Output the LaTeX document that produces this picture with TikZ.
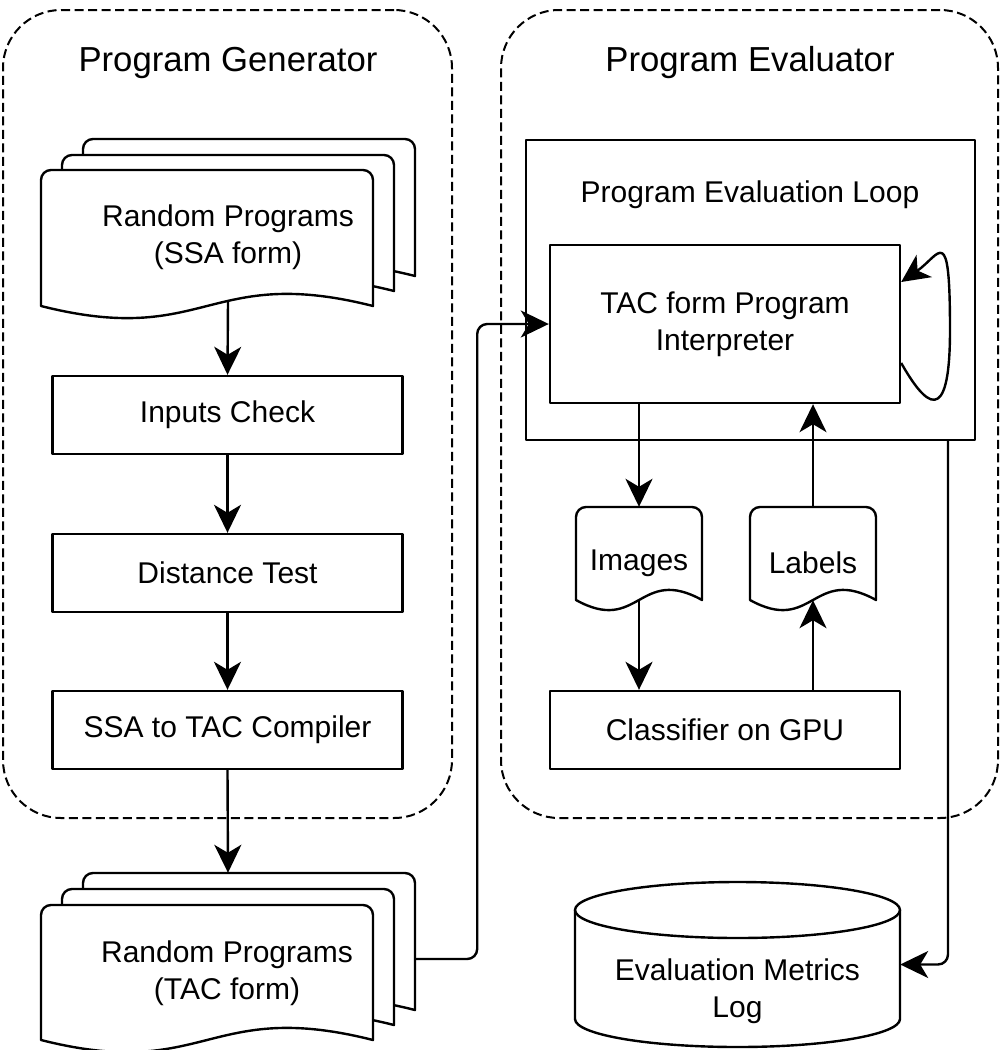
\documentclass[tikz,border=0pt]{standalone}
\usepackage{fontspec}
\setmainfont{Liberation Sans}
\usetikzlibrary{arrows.meta}

% one page of a document shape: left, top, right, wave line, wave depth
\newcommand{\docpage}[5]{%
  \filldraw[shapeline, fill=white] (#1,#4) -- (#1,#2+10)
    arc[start angle=180, end angle=270, radius=10] -- (#3-10,#2)
    arc[start angle=270, end angle=360, radius=10] -- (#3,#4)
    .. controls ({(#1+#3)/2},#4-#5) and ({(#1+#3)/2},#4+#5) .. (#1,#4) -- cycle;
}

\begin{document}
\begin{tikzpicture}[x=1pt, y=-1pt, line join=round,
    font=\fontsize{30}{37}\selectfont,
    shapeline/.style={line width=2.4pt},
    container/.style={draw, line width=2pt, dash pattern=on 9pt off 4.5pt, rounded corners=58pt, minimum height=808pt},
    grouptitle/.style={font=\fontsize{34.7}{42}\selectfont},
    procbox/.style={draw, line width=2.4pt, fill=white, align=center, minimum width=350pt, minimum height=78pt},
    anchorbox/.style={inner sep=0pt},
    txt/.style={align=center},
    flow/.style={line width=2.4pt, arrows={-Stealth[length=28pt, width=27pt, inset=8pt]}}]

    \useasboundingbox (0,0) rectangle (1001,1050);

    % Dashed groups
    \node[container, minimum width=449pt] (gen) at (227.5,414) {};
    \node[container, minimum width=497pt] (evalr) at (749.5,414) {};
    \node[grouptitle] (gentitle) at (228,63) {Program Generator};
    \node[grouptitle] (evaltitle) at (750,63) {Program Evaluator};

    % Random programs in SSA form (three pages)
    \docpage{83}{139}{415}{276}{42}
    \docpage{62}{155}{394}{291}{42}
    \docpage{41}{170}{373}{306}{42}
    \node[anchorbox, minimum width=374pt, minimum height=162pt] (ssa) at (228,220) {};
    \node[txt] (ssatxt) at (228,237) {Random Programs\\(SSA form)};

    % Generator steps
    \node[procbox] (inputs) at (227.5,415) {Inputs Check};
    \node[procbox] (dist) at (227.5,573) {Distance Test};
    \node[procbox] (comp) at (227.5,730) {SSA to TAC Compiler};

    % Random programs in TAC form (three pages)
    \docpage{83}{873}{415}{1010}{42}
    \docpage{62}{889}{394}{1025}{42}
    \docpage{41}{905}{373}{1040}{42}
    \node[anchorbox, minimum width=374pt, minimum height=186pt] (tac) at (228,966) {};
    \node[txt] (tactxt) at (227,973) {Random Programs\\(TAC form)};

    % Evaluation loop
    \node[procbox, minimum width=449pt, minimum height=300pt] (loop) at (750.5,290) {};
    \node (looptxt) at (750,195) {Program Evaluation Loop};
    \node[procbox, minimum height=158pt] (interp) at (725,324) {TAC form Program\\Interpreter};

    % Images and labels
    \docpage{576}{507}{702}{600}{35}
    \docpage{750}{507}{876}{600}{35}
    \node[anchorbox, minimum width=126pt, minimum height=93pt] (img) at (639,553.5) {};
    \node[anchorbox, minimum width=126pt, minimum height=93pt] (lab) at (813,553.5) {};
    \node (imgtxt) at (639,563) {Images};
    \node (labtxt) at (813,563) {Labels};
    \node[procbox] (cls) at (725,730) {Classifier on GPU};

    % Metrics log (cylinder)
    \draw[shapeline] (575,910) -- (575,1019) arc[start angle=180, end angle=0, x radius=162.5, y radius=28] -- (900,910);
    \draw[shapeline] (737.5,910) ellipse[x radius=162.5, y radius=28];
    \node[anchorbox, minimum width=325pt, minimum height=165pt] (logdb) at (737.5,964.5) {};
    \node[txt] (logtxt) at (737.5,991) {Evaluation Metrics\\Log};

    % Connectors
    \draw[flow] (ssa.south) -- (inputs.north);
    \draw[flow] (inputs) -- (dist);
    \draw[flow] (dist) -- (comp);
    \draw[flow] (comp.south) -- (tac.north);
    \draw[flow, rounded corners=10pt] ([yshift=7pt]tac.east) -- ++(62,0) |- (interp.west);
    \draw[flow] (interp.south -| img.north) -- (img.north);
    \draw[flow] (img.south) -- (img.south |- cls.north);
    \draw[flow] (lab.south |- cls.north) -- (lab.south);
    \draw[flow] (lab.north) -- (lab.north |- interp.south);
    \draw[flow] ([yshift=-39pt]interp.east) .. controls (925,405) and (950,430) .. (950,330)
        .. controls (950,220) and (940,255) .. ([yshift=42pt]interp.east);
    \draw[flow, rounded corners=10pt] ([xshift=197.5pt]loop.south) |- (logdb.east);
\end{tikzpicture}
\end{document}
